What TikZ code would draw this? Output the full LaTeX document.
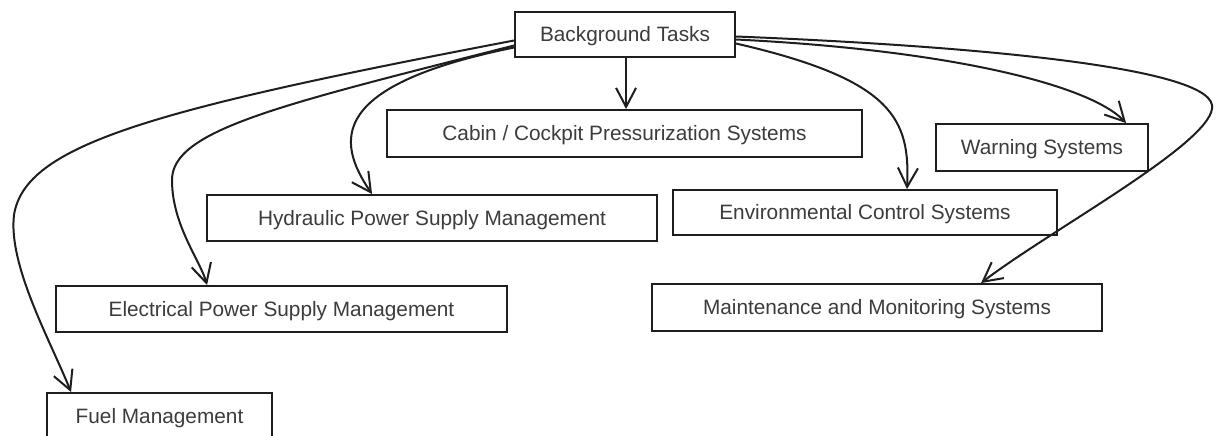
\documentclass[tikz,border=0pt]{standalone}
\usepackage{fontspec}
\setmainfont{Liberation Sans}
\usetikzlibrary{arrows.meta}
\definecolor{ink}{RGB}{30,30,30}
\definecolor{txt}{RGB}{60,60,60}
\tikzset{
  box/.style={draw=ink, line width=1.9pt, inner sep=0pt, fill=white,
    text=txt, font=\fontsize{20.8}{24}\selectfont,
    text height=14.9pt, text depth=0pt},
  link/.style={draw=ink, line width=2pt,
    -{Straight Barb[length=19pt,width=20pt,line width=2pt]}}
}
\begin{document}
\begin{tikzpicture}[x=1pt,y=-1pt]
\clip (0,0) rectangle (1229,436);
\fill[white] (0,0) rectangle (1229,436);
\node[box, minimum width=220pt, minimum height=45pt] (bt) at (625,34.5) {Background Tasks};
\node[box, minimum width=475pt, minimum height=47pt] (cabin) at (624.5,133.5) {Cabin / Cockpit Pressurization Systems};
\node[box, minimum width=212pt, minimum height=47pt] (warn) at (1042,147.5) {Warning Systems};
\node[box, minimum width=450pt, minimum height=46pt] (hyd) at (432,218) {Hydraulic Power Supply Management};
\node[box, minimum width=384pt, minimum height=45pt] (env) at (865,212.5) {Environmental Control Systems};
\node[box, minimum width=451pt, minimum height=46pt] (elec) at (281.5,309) {Electrical Power Supply Management};
\node[box, minimum width=450pt, minimum height=47pt] (maint) at (877,307.5) {Maintenance and Monitoring Systems};
\node[box, minimum width=225pt, minimum height=46pt] (fuel) at (159.5,416) {Fuel Management};

% left side
\draw[link] ([yshift=-6pt]bt.west) .. controls (150,110) and (25,145) .. (14,215)
  .. controls (8,265) and (50,340) .. ([xshift=25pt]fuel.north west);
\draw[link] ([yshift=-11pt]bt.west) .. controls (280,105) and (172,130) .. (172,180)
  .. controls (172,225) and (200,260) .. ([xshift=152pt]elec.north west);
\draw[link] ([yshift=-13pt]bt.west) .. controls (330,85) and (335,140) .. ([xshift=166pt]hyd.north west);
% middle
\draw[link] ([xshift=112pt]bt.south west) -- ([xshift=240pt]cabin.north west);
% right side
\draw[link] ([yshift=-9pt]bt.east) .. controls (895,80) and (910,120) .. ([xshift=235pt]env.north west);
\draw[link] ([yshift=-5pt]bt.east) .. controls (950,50) and (1090,85) .. ([xshift=191pt]warn.north west);
\draw[link] ([yshift=-2pt]bt.east) .. controls (950,45) and (1205,65) .. (1212,105)
  .. controls (1218,140) and (1050,230) .. ([xshift=330pt]maint.north west);
\end{tikzpicture}
\end{document}
